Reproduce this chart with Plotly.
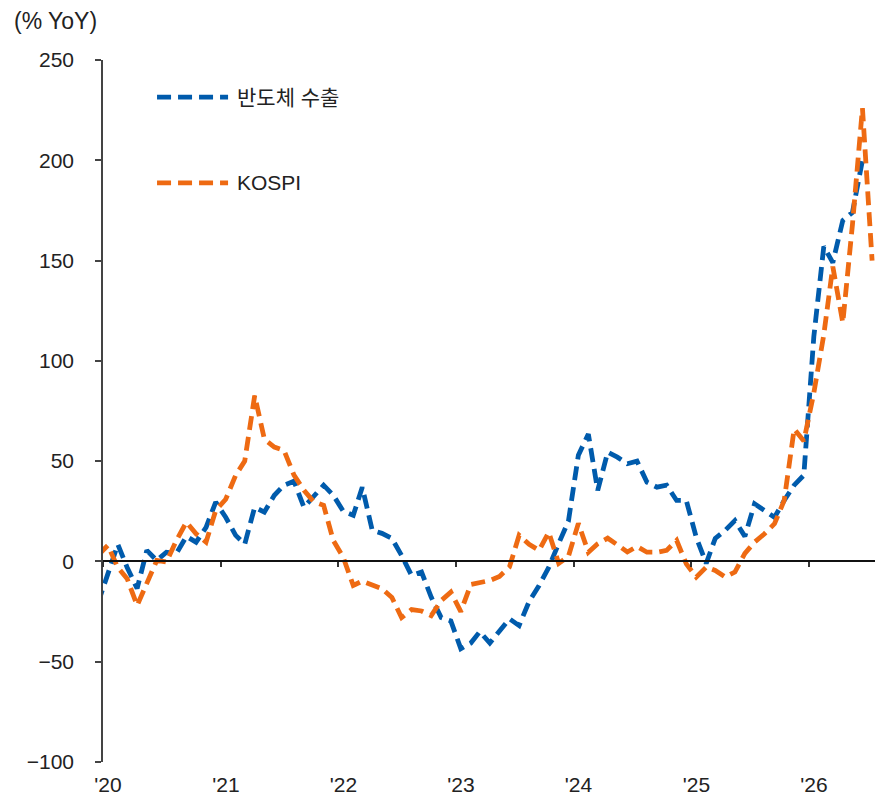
import pandas as pd
import plotly.graph_objects as go

# monthly series, Dec 2019 .. Jul 2026 (Dec 2019 only feeds the clipped start of the line)
months = pd.period_range("2019-12", "2026-07", freq="M")

semi_exports = [
    -21, -6, 8.5, -3, -13.5, 5.5, 0.5, 4.6, 4, 12.5, 9.6, 17, 29.6,          # '19.12 - '20.12
    22, 13, 8.6, 27, 24.6, 33, 38, 40, 27, 32.5, 38, 33,                     # '21
    25, 23, 37, 15.5, 14, 11.5, 3, -7, -5.3, -17.8, -28, -29.7,              # '22
    -43.5, -40.7, -35, -40.7, -35, -28.6, -32, -20, -12, -3, 9, 20,          # '23
    53, 63.5, 35.4, 54.5, 52, 48.7, 50, 39.5, 37, 38, 30.4, 30.4,            # '24
    12, -1, 11.5, 15.5, 20.4, 12.5, 28.7, 25.4, 22, 30.4, 38, 43,            # '25
    112, 157, 149, 170, 174, 200, None,                                      # '26
]

kospi = [
    3, 8, -3, -8.6, -22, -11, 0.5, -0.3, 10.5, 19.6, 13.8, 9.6, 25.4,
    31, 43, 50, 82.7, 61, 57, 55.3, 43, 35.5, 29.8, 28, 10.5,
    2, -12, -9.8, -11.5, -13.6, -18, -28, -24, -24.7, -27, -19.5, -15.3,
    -25, -11.5, -10.3, -9.5, -7.5, -2.8, 13, 8.5, 5.5, 14.6, -1, 2.5,
    19, 4.6, 8.8, 11.6, 8.3, 4.7, 7.5, 4.6, 4.6, 5.5, 10.5, -1.2,
    -7.8, -2.8, -4.5, -7.8, -5.3, 4, 9.6, 13.8, 18.8, 30.4, 66, 60,
    84, 113, 147, 119, 168, 226, 150,
]

year_ticks = ["2020-01-01", "2021-01-01", "2022-01-01", "2023-01-01",
              "2024-01-01", "2025-01-01", "2026-01-01"]
year_labels = ["'20", "'21", "'22", "'23", "'24", "'25", "'26"]

# plot each month at its middle
dates = [p.to_timestamp() + pd.Timedelta(days=15) for p in months]

BLUE = "#005BAC"
ORANGE = "#EE6A12"
FONT = "Liberation Sans, Noto Sans CJK KR, sans-serif"
DASH = "14px,7px"
LINE_W = 4.8

fig = go.Figure()

fig.add_trace(go.Scatter(
    x=dates, y=semi_exports, name="반도체 수출", mode="lines",
    line=dict(color=BLUE, width=LINE_W, dash=DASH),
    connectgaps=False, showlegend=False,
))
# KOSPI sits on the overlaid bottom axis so that axis (with the year labels) gets drawn
fig.add_trace(go.Scatter(
    x=dates, y=kospi, name="KOSPI", mode="lines", xaxis="x2",
    line=dict(color=ORANGE, width=LINE_W, dash=DASH),
    showlegend=False,
))

x_range = ["2020-01-01", "2026-07-25"]
y_min, y_max = -100, 250

# hand-made legend (long line samples, wide spacing)
legend_items = [("반도체 수출", BLUE, 0.947), ("KOSPI", ORANGE, 0.825)]
for label, color, ly in legend_items:
    fig.add_shape(type="line", xref="paper", yref="paper",
                  x0=0.070, x1=0.162, y0=ly, y1=ly,
                  line=dict(color=color, width=LINE_W, dash=DASH))
    fig.add_annotation(text=label, xref="paper", yref="paper",
                       x=0.171, y=ly, xanchor="left", yanchor="middle",
                       showarrow=False, font=dict(size=21, color="#222", family=FONT))

fig.add_annotation(text="(% YoY)", xref="paper", yref="paper",
                   x=-0.118, y=1.0556, xanchor="left", yanchor="middle",
                   showarrow=False, font=dict(size=23, color="#222", family=FONT))

fig.update_layout(
    width=875, height=798,
    margin=dict(l=103, r=0, t=60, b=36),
    paper_bgcolor="white", plot_bgcolor="white",
    font=dict(family=FONT, size=21, color="#222"),
    xaxis=dict(
        type="date", range=x_range,
        anchor="free", position=(0 - y_min) / (y_max - y_min),
        showline=True, linecolor="#111", linewidth=1.5,
        ticks="outside", ticklen=5, tickcolor="#333", tickwidth=1.5,
        tickvals=year_ticks, showticklabels=False, showgrid=False, zeroline=False,
    ),
    xaxis2=dict(
        type="date", range=x_range, matches="x",
        overlaying="x", anchor="y", side="bottom",
        showline=False, ticks="", showgrid=False, zeroline=False,
        tickvals=year_ticks, ticktext=year_labels,
        ticklabelshift=5, ticklabelstandoff=8,
        tickfont=dict(size=21, color="#222"),
    ),
    yaxis=dict(
        range=[y_min, y_max], domain=[0, 1], dtick=50,
        showline=True, linecolor="#444", linewidth=1.5,
        ticks="outside", ticklen=6, tickcolor="#444", tickwidth=1.5,
        showgrid=False, zeroline=False,
        ticklabelstandoff=17,
        tickfont=dict(size=21, color="#222"),
    ),
)

# drop the default page margin so the figure fills the window exactly
fig.write_html(
    "out.html",
    config={"displayModeBar": False},
    post_script="document.body.style.margin='0';document.body.style.overflow='hidden';",
)
